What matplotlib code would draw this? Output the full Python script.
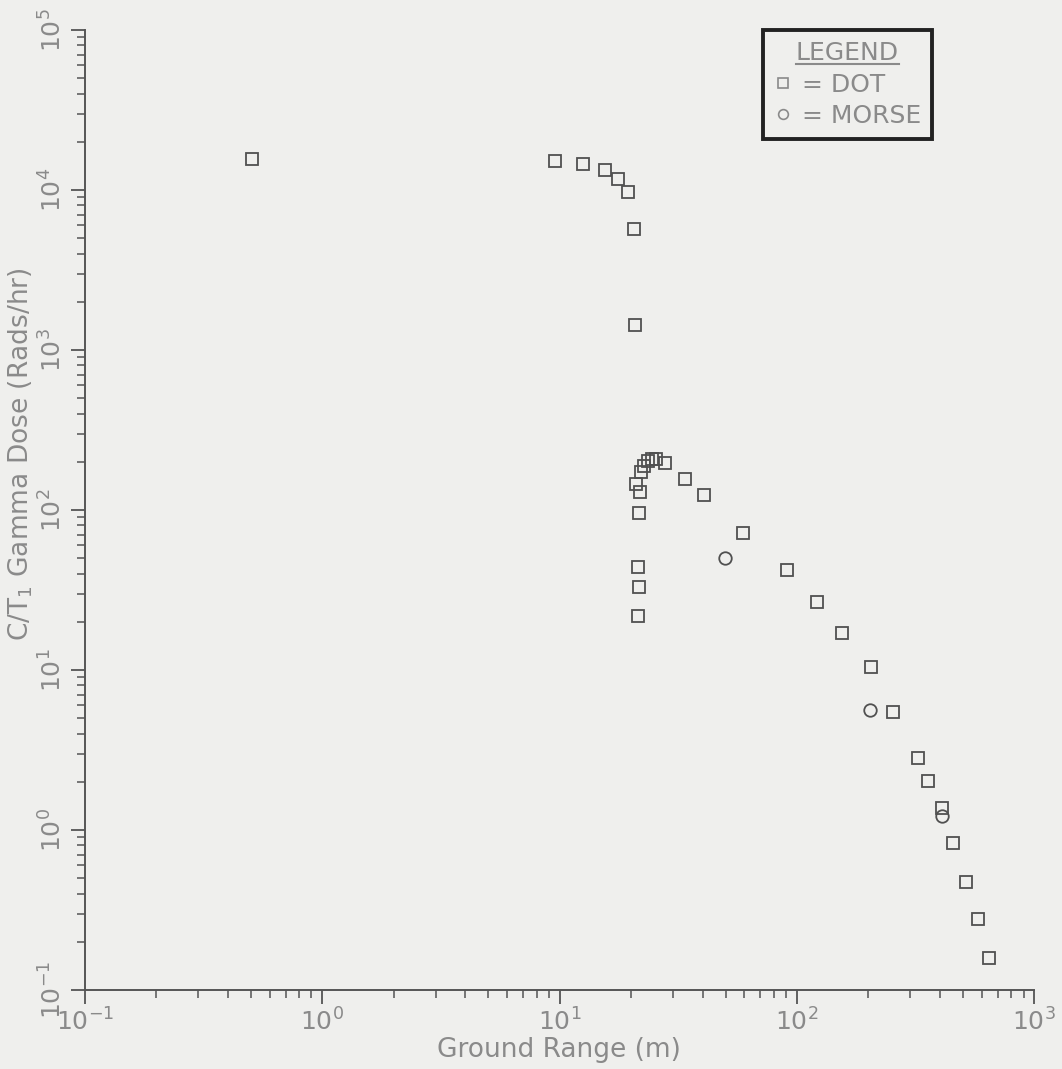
import matplotlib
matplotlib.use("Agg")
import matplotlib.pyplot as plt
from matplotlib.ticker import LogLocator, FixedLocator
from matplotlib.lines import Line2D

# DOT results (ground range in m, dose in Rads/hr)
dot_range = [0.506, 9.56, 12.5, 15.5, 17.6, 19.4, 20.6, 20.8,
             22.0, 22.7, 23.6, 24.5, 25.5, 27.8, 21.0, 21.8,
             21.6, 21.4, 21.6, 21.4, 33.8, 40.6, 59.3, 90.8,
             121.5, 155, 205, 254, 324, 357, 409, 455, 516, 580, 645]
dot_dose = [15600, 15200, 14500, 13300, 11700, 9700, 5700, 1430,
            173, 188, 202, 208, 208, 197, 145, 130,
            96, 44, 33, 21.8, 156, 124, 71.8, 42.2,
            26.6, 17.0, 10.4, 5.46, 2.82, 2.02, 1.37, 0.83, 0.473, 0.278, 0.158]

# MORSE results
morse_range = [49.8, 203, 409]
morse_dose = [50.1, 5.6, 1.22]

x_ticks = [0.1, 1, 10, 100, 1000]
x_tick_labels = ["$10^{-1}$", "$10^{0}$", "$10^{1}$", "$10^{2}$", "$10^{3}$"]
y_ticks = [0.1, 1, 10, 100, 1000, 10000, 100000]
y_tick_labels = ["$10^{-1}$", "$10^{0}$", "$10^{1}$", "$10^{2}$",
                 "$10^{3}$", "$10^{4}$", "$10^{5}$"]

bg = "#efefed"
text_grey = "#8a8a8a"
axis_grey = "#555555"
mark_grey = "#505050"

plt.rcParams["font.family"] = ["DejaVu Sans"]
plt.rcParams["mathtext.fontset"] = "dejavusans"

fig = plt.figure(figsize=(10.62, 10.69), dpi=100, facecolor=bg)
ax = fig.add_axes([0.080, 0.074, 0.894, 0.898])
ax.set_facecolor(bg)

ax.plot(dot_range, dot_dose, linestyle="none", marker="s", markersize=9,
        markerfacecolor="none", markeredgecolor=mark_grey, markeredgewidth=1.3)
ax.plot(morse_range, morse_dose, linestyle="none", marker="o", markersize=9,
        markerfacecolor="none", markeredgecolor=mark_grey, markeredgewidth=1.3)

ax.set_xscale("log")
ax.set_yscale("log")
ax.set_xlim(0.1, 1000)
ax.set_ylim(0.1, 100000)

ax.spines["top"].set_visible(False)
ax.spines["right"].set_visible(False)
for side in ["left", "bottom"]:
    ax.spines[side].set_color(axis_grey)
    ax.spines[side].set_linewidth(1.4)

ax.xaxis.set_major_locator(FixedLocator(x_ticks))
ax.yaxis.set_major_locator(FixedLocator(y_ticks))
ax.xaxis.set_minor_locator(LogLocator(base=10, subs=range(2, 10), numticks=20))
ax.yaxis.set_minor_locator(LogLocator(base=10, subs=range(2, 10), numticks=20))
ax.set_xticklabels(x_tick_labels)
ax.set_yticklabels(y_tick_labels, rotation=90, va="center")

ax.tick_params(which="major", direction="out", length=10, width=1.3,
               color=axis_grey, labelcolor=text_grey, labelsize=18)
ax.tick_params(which="minor", direction="out", length=6, width=1.1,
               color=axis_grey)
ax.tick_params(axis="y", which="major", pad=3)
ax.tick_params(axis="x", which="major", pad=3)

fig.text(0.5265, 0.006, "Ground Range (m)", ha="center", va="bottom",
         fontsize=19, color=text_grey)
fig.text(0.020, 0.575, "C/T$_{1}$ Gamma Dose (Rads/hr)", ha="center",
         va="center", rotation=90, fontsize=19, color=text_grey)

handles = [
    Line2D([], [], linestyle="none", marker="s", markersize=7,
           markerfacecolor="none", markeredgecolor=text_grey, markeredgewidth=1.2),
    Line2D([], [], linestyle="none", marker="o", markersize=7,
           markerfacecolor="none", markeredgecolor=text_grey, markeredgewidth=1.2),
]
leg = ax.legend(handles, ["= DOT", "= MORSE"], title="LEGEND",
                loc="upper left", bbox_to_anchor=(0.714, 1.0),
                borderaxespad=0, fancybox=False, framealpha=1,
                facecolor=bg, edgecolor="#222222", fontsize=18,
                title_fontsize=18, handlelength=0.7, handletextpad=0.4,
                labelspacing=0.3, borderpad=0.45, labelcolor=text_grey)
leg.get_frame().set_linewidth(2.8)
leg.get_title().set_color(text_grey)

# underline the legend title
fig.canvas.draw()
bb = leg.get_title().get_window_extent().transformed(fig.transFigure.inverted())
fig.add_artist(Line2D([bb.x0, bb.x1], [bb.y0 + 0.001, bb.y0 + 0.001],
                      color=text_grey, linewidth=1.5,
                      transform=fig.transFigure))

fig.savefig("out.png", dpi=100, facecolor=bg)
